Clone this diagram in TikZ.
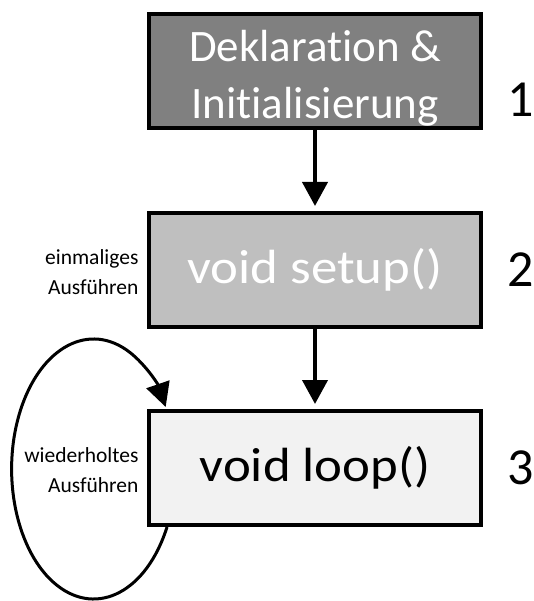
\documentclass[tikz,border=0pt]{standalone}
\usepackage{fontspec}
\setmainfont{Carlito}[Ligatures=NoCommon]
\usetikzlibrary{arrows.meta,calc}
\begin{document}
\begin{tikzpicture}[x=1pt,y=-1pt,
  stage/.style={draw=black,line width=4pt,minimum width=332pt,minimum height=114pt,
    inner sep=0pt,align=center,font=\fontsize{48}{53}\selectfont},
  stagenum/.style={font=\fontsize{52}{56}\selectfont,anchor=east},
  note/.style={font=\fontsize{21.5}{30}\selectfont,align=right,anchor=east},
  flow/.style={line width=4pt,-{Triangle[length=24pt,width=25pt]}},
  loopline/.style={line width=3pt,-{Triangle[length=24pt,width=24pt]}}]
\useasboundingbox (0,0) rectangle (534,601);
% the three stages of a sketch
\node[stage,fill=black!50,
  label={[yshift=-7pt,text=white,align=center,font=\fontsize{45}{57}\selectfont]center:Deklaration \&\\Initialisierung}]
  (decl) at (315,71) {};
\node[stage,fill=black!25,text=white] (setup) at (315,270) {\scalebox{1.1}[1]{void setup()}};
\node[stage,fill=black!5,text=black] (loop) at (315,468) {\scalebox{1.1}[1]{void loop()}};
% stage numbers
\node[stagenum] (n1) at (537,100) {1};
\node[stagenum] (n2) at (537,270) {2};
\node[stagenum] (n3) at (537,468) {3};
% side notes
\node[note] (once) at (142,272) {einmaliges\\Ausführen};
\node[note] (again) at (142,470) {wiederholtes\\Ausführen};
% flow between stages
\draw[flow] (decl.south) -- ($(setup.north)+(0,-5)$);
\draw[flow] (setup.south) -- ($(loop.north)+(0,-5)$);
% repeating loop
\coordinate (lbot) at ($(loop.south west)+(20,0)$);
\draw[loopline] (lbot) arc[start angle=26.5,end angle=331.5,x radius=82,y radius=130];
\end{tikzpicture}
\end{document}
